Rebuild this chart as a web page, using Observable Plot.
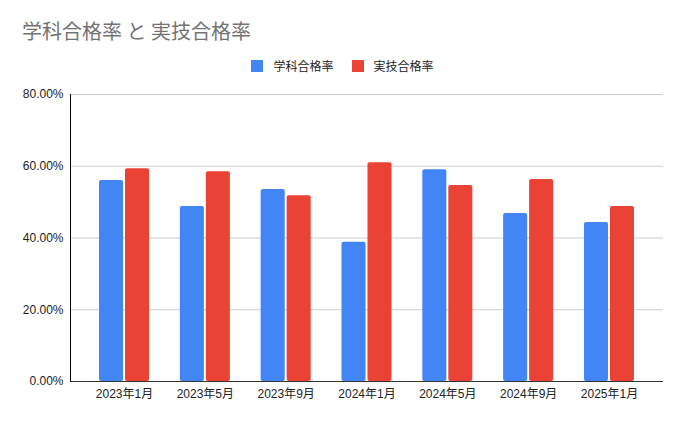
<!DOCTYPE html>
<html>
<head>
<meta charset="utf-8">
<script src="https://cdn.jsdelivr.net/npm/d3@7"></script>
<script src="https://cdn.jsdelivr.net/npm/@observablehq/plot@0.6"></script>
<style>
  html, body { margin: 0; padding: 0; background: #fff; }
  body { width: 685px; height: 423px; overflow: hidden; font-family: "Liberation Sans", Arial, "Noto Sans CJK JP", sans-serif; }
  #head { position: relative; height: 80px; }
  #title { position: absolute; left: 22px; top: 21px; font-size: 20px; line-height: 20px; font-weight: 400; color: #737373; font-family: "Noto Sans CJK JP", sans-serif; white-space: nowrap; }
  #legend { position: absolute; left: 0; width: 685px; top: 60px; display: flex; justify-content: center; gap: 18px; font-size: 12px; line-height: 12px; color: #222; font-family: "Noto Sans CJK JP", sans-serif; }
  .item { display: flex; align-items: center; gap: 10px; }
  .sw { width: 12px; height: 12px; display: inline-block; }
  svg text { font-family: "Liberation Sans", Arial, "Noto Sans CJK JP", sans-serif; }
</style>
</head>
<body>
<div id="head">
  <div id="title">学科合格率 と 実技合格率</div>
  <div id="legend"></div>
</div>
<div id="chart"></div>
<script>
const categories = ["2023年1月", "2023年5月", "2023年9月", "2024年1月", "2024年5月", "2024年9月", "2025年1月"];
const seriesNames = ["学科合格率", "実技合格率"];
const gakkaValues = [56.0, 48.8, 53.5, 38.8, 59.0, 46.8, 44.3];
const jitsugiValues = [59.3, 58.5, 51.8, 61.0, 54.6, 56.3, 48.8];
const yTicks = [0, 20, 40, 60, 80];
const colors = ["#4285F4", "#EA4335"];

const gakka = categories.map((c, i) => ({category: c, value: gakkaValues[i]}));
const jitsugi = categories.map((c, i) => ({category: c, value: jitsugiValues[i]}));

const legend = document.getElementById("legend");
seriesNames.forEach((name, i) => {
  const item = document.createElement("div");
  item.className = "item";
  const sw = document.createElement("span");
  sw.className = "sw";
  sw.style.background = colors[i];
  const t = document.createElement("span");
  t.textContent = name;
  item.appendChild(sw);
  item.appendChild(t);
  legend.appendChild(item);
});

const chart = Plot.plot({
  width: 685,
  height: 343,
  marginTop: 14,
  marginBottom: 42,
  marginLeft: 70,
  marginRight: 22,
  style: {fontSize: "12px", color: "#222", background: "#fff"},
  x: {domain: categories, paddingInner: 0.381, paddingOuter: 0.359, round: false, label: null, tickSize: 0, tickPadding: 8},
  y: {domain: [0, 80], ticks: yTicks, tickFormat: d => d.toFixed(2) + "%", label: null, tickSize: 0, tickPadding: 7},
  marks: [
    Plot.ruleY(yTicks.filter(d => d > 0), {stroke: "#cccccc", strokeWidth: 1}),
    Plot.barY(gakka, {x: "category", y: "value", fill: colors[0], insetRight: 26, insetLeft: 0, rx: 2}),
    Plot.barY(jitsugi, {x: "category", y: "value", fill: colors[1], insetLeft: 26, insetRight: 0, rx: 2}),
    Plot.ruleY([0], {stroke: "#333", strokeWidth: 1}),
    Plot.frame({anchor: "left", stroke: "#000", strokeWidth: 1})
  ]
});
document.getElementById("chart").appendChild(chart);
</script>
</body>
</html>
